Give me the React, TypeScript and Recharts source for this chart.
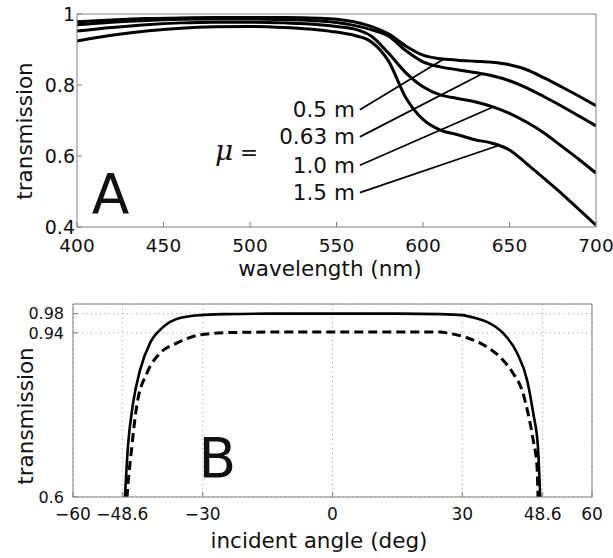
import {
  Line,
  LineChart,
  CartesianGrid,
  ReferenceDot,
  ReferenceLine,
  XAxis,
  YAxis,
} from 'recharts';

const FONT = '"DejaVu Sans", sans-serif';
const INK = '#111';
const AXIS = '#808080';

// Panel A: transmission vs wavelength for four values of mu
const WAVELENGTHS = [400, 420, 440, 460, 480, 500, 520, 540, 550, 560, 570, 580, 590, 600, 610, 620, 630, 640, 650, 660, 670, 680, 690, 700];
const T_050 = [0.978, 0.983, 0.987, 0.989, 0.99, 0.99, 0.99, 0.988, 0.985, 0.978, 0.965, 0.944, 0.91, 0.884, 0.874, 0.87, 0.867, 0.864, 0.857, 0.843, 0.82, 0.795, 0.769, 0.742];
const T_063 = [0.97, 0.977, 0.982, 0.985, 0.986, 0.986, 0.984, 0.98, 0.976, 0.968, 0.956, 0.938, 0.897, 0.865, 0.851, 0.843, 0.835, 0.826, 0.812, 0.792, 0.767, 0.741, 0.713, 0.685];
const T_100 = [0.952, 0.962, 0.97, 0.975, 0.977, 0.977, 0.975, 0.97, 0.965, 0.958, 0.938, 0.89, 0.835, 0.795, 0.772, 0.762, 0.753, 0.739, 0.72, 0.695, 0.665, 0.628, 0.591, 0.552];
const T_150 = [0.924, 0.94, 0.952, 0.96, 0.964, 0.965, 0.962, 0.955, 0.949, 0.94, 0.922, 0.868, 0.765, 0.703, 0.673, 0.66, 0.646, 0.636, 0.617, 0.578, 0.537, 0.495, 0.45, 0.405];
const A_X_TICKS = [400, 450, 500, 550, 600, 650, 700];
const A_Y_TICKS = [0.4, 0.6, 0.8, 1];

const MU_LABELS = ['0.5 m', '0.63 m', '1.0 m', '1.5 m'];
const LEADER_FROM_WL = 563.5;
const LEADER_FROM_T = [0.73, 0.654, 0.574, 0.497];
const LEADER_TO_WL = [612, 634, 640.5, 644.5];
const LEADER_TO_T = [0.873, 0.831, 0.738, 0.631];

// Panel B: transmission vs incident angle
const SOLID_ANGLE = [-48.4, -48.0, -47.3, -46.1, -44.5, -42.2, -39.2, -35.3, -30.6, -25, -15, 0, 15, 25, 29.9, 33, 35.7, 39.4, 42.7, 45.0, 46.4, 47.5, 48.0, 48.4];
const SOLID_T = [0.54, 0.6, 0.704, 0.795, 0.863, 0.919, 0.952, 0.971, 0.977, 0.979, 0.98, 0.98, 0.98, 0.979, 0.977, 0.971, 0.963, 0.94, 0.898, 0.842, 0.774, 0.704, 0.608, 0.54];
const DASHED_ANGLE = [-47.9, -47.5, -46.4, -45.3, -42.9, -39.9, -36, -30.6, -23, -10, 0, 10, 24.9, 26.5, 31.1, 35.7, 39.4, 41.7, 43.8, 45.2, 46.4, 47.3, 47.5, 47.8];
const DASHED_T = [0.54, 0.6, 0.704, 0.787, 0.857, 0.898, 0.919, 0.936, 0.941, 0.942, 0.942, 0.942, 0.942, 0.94, 0.93, 0.911, 0.884, 0.857, 0.822, 0.774, 0.718, 0.662, 0.608, 0.54];
const B_X_TICKS = [-60, -48.6, -30, 0, 30, 48.6, 60];
const B_Y_TICKS = [0.6, 0.94, 0.98];

const axisLine = { stroke: AXIS, strokeWidth: 1 };

function Title({ x, y, angle, children }: any) {
  return (
    <text
      x={x}
      y={y}
      textAnchor="middle"
      transform={angle ? `rotate(${angle} ${x} ${y})` : undefined}
      fill={INK}
      fontSize={21.5}
      fontFamily={FONT}
    >
      {children}
    </text>
  );
}

function textAt(text: string, anchor: string, size: number, dx = 0) {
  return (props: any) => {
    const vb = props.viewBox || {};
    return (
      <text
        x={vb.x + dx}
        y={vb.y}
        textAnchor={anchor}
        dominantBaseline={size < 30 ? 'central' : undefined}
        fill={INK}
        fontSize={size}
        fontFamily={FONT}
      >
        {text}
      </text>
    );
  };
}

function muLabel(props: any) {
  const vb = props.viewBox || {};
  return (
    <text x={vb.x} y={vb.y} fill={INK} fontSize={21.5} fontFamily={FONT}>
      <tspan fontFamily='"DejaVu Serif", serif' fontStyle="italic" fontSize={28}>
        μ
      </tspan>
      <tspan> =</tspan>
    </text>
  );
}

function PanelA() {
  const data = WAVELENGTHS.map((wl, i) => ({
    wl,
    m050: T_050[i],
    m063: T_063[i],
    m100: T_100[i],
    m150: T_150[i],
  }));
  const series = ['m050', 'm063', 'm100', 'm150'];
  return (
    <LineChart width={613} height={280} data={data} margin={{ top: 0, right: 0, bottom: 0, left: 0 }}>
      <XAxis
        dataKey="wl"
        type="number"
        domain={[400, 700]}
        allowDataOverflow
        ticks={A_X_TICKS}
        interval={0}
        height={53}
        tickSize={-5}
        tickMargin={17}
        axisLine={axisLine}
        tickLine={axisLine}
        tick={{ fill: INK, fontSize: 18.5, fontFamily: FONT }}
        label={() => <Title x={330} y={276}>wavelength (nm)</Title>}
      />
      <XAxis
        xAxisId="top"
        orientation="top"
        type="number"
        domain={[400, 700]}
        allowDataOverflow
        ticks={A_X_TICKS}
        interval={0}
        height={14}
        tickSize={-5}
        axisLine={axisLine}
        tickLine={axisLine}
        tick={false}
      />
      <YAxis
        type="number"
        domain={[0.4, 1]}
        allowDataOverflow
        ticks={A_Y_TICKS}
        interval={0}
        width={77}
        tickSize={-5}
        tickMargin={7}
        axisLine={axisLine}
        tickLine={axisLine}
        tick={{ fill: INK, fontSize: 19, fontFamily: FONT }}
        label={() => <Title x={32} y={131} angle={-90}>transmission</Title>}
      />
      <YAxis
        yAxisId="right"
        orientation="right"
        type="number"
        domain={[0.4, 1]}
        allowDataOverflow
        ticks={A_Y_TICKS}
        interval={0}
        width={17}
        tickSize={-5}
        axisLine={axisLine}
        tickLine={axisLine}
        tick={false}
      />
      {MU_LABELS.map((lab, i) => (
        <ReferenceLine
          key={lab + '-leader'}
          segment={[
            { x: LEADER_FROM_WL, y: LEADER_FROM_T[i] },
            { x: LEADER_TO_WL[i], y: LEADER_TO_T[i] },
          ]}
          stroke="#000"
          strokeWidth={1.8}
        />
      ))}
      {series.map((key) => (
        <Line
          key={key}
          dataKey={key}
          type="monotone"
          stroke="#000"
          strokeWidth={3}
          dot={false}
          activeDot={false}
          isAnimationActive={false}
        />
      ))}
      {MU_LABELS.map((lab, i) => (
        <ReferenceDot
          key={lab}
          x={LEADER_FROM_WL}
          y={LEADER_FROM_T[i]}
          r={0}
          fill="none"
          stroke="none"
          label={textAt(lab, 'end', 21.5, -5)}
        />
      ))}
      <ReferenceDot x={479.8} y={0.589} r={0} fill="none" stroke="none" label={muLabel} />
      <ReferenceDot x={419.4} y={0.4394} r={0} fill="none" stroke="none" label={textAt('A', 'middle', 55)} />
    </LineChart>
  );
}

function PanelB() {
  const solid = SOLID_ANGLE.map((angle, i) => ({ angle, t: SOLID_T[i] }));
  const dashed = DASHED_ANGLE.map((angle, i) => ({ angle, t: DASHED_T[i] }));
  const fmtAngle = (v: number) => (v < 0 ? `−${Math.abs(v)}` : `${v}`);
  return (
    <LineChart width={613} height={278} margin={{ top: 0, right: 0, bottom: 0, left: 0 }}>
      <CartesianGrid stroke="#9a9a9a" strokeDasharray="1 3.5" />
      <XAxis
        dataKey="angle"
        type="number"
        domain={[-60, 60]}
        allowDataOverflow
        ticks={B_X_TICKS}
        interval={0}
        height={61}
        tickSize={-5}
        tickMargin={16}
        axisLine={axisLine}
        tickLine={axisLine}
        tickFormatter={fmtAngle}
        tick={{ fill: INK, fontSize: 17, fontFamily: FONT }}
        label={() => <Title x={319} y={268}>incident angle (deg)</Title>}
      />
      <XAxis
        xAxisId="top"
        orientation="top"
        type="number"
        domain={[-60, 60]}
        allowDataOverflow
        ticks={B_X_TICKS}
        interval={0}
        height={24}
        tickSize={-5}
        axisLine={axisLine}
        tickLine={axisLine}
        tick={false}
      />
      <YAxis
        type="number"
        domain={[0.6, 1]}
        allowDataOverflow
        ticks={B_Y_TICKS}
        interval={0}
        width={73}
        tickSize={-5}
        tickMargin={14}
        axisLine={axisLine}
        tickLine={axisLine}
        tick={{ fill: INK, fontSize: 16, fontFamily: FONT }}
        label={() => <Title x={33} y={136} angle={-90}>transmission</Title>}
      />
      <YAxis
        yAxisId="right"
        orientation="right"
        type="number"
        domain={[0.6, 1]}
        allowDataOverflow
        ticks={B_Y_TICKS}
        interval={0}
        width={21}
        tickSize={-5}
        axisLine={axisLine}
        tickLine={axisLine}
        tick={false}
      />
      <Line
        data={solid}
        dataKey="t"
        type="monotone"
        stroke="#000"
        strokeWidth={2.6}
        dot={false}
        activeDot={false}
        isAnimationActive={false}
      />
      <Line
        data={dashed}
        dataKey="t"
        type="monotone"
        stroke="#000"
        strokeWidth={3}
        strokeDasharray="9 5"
        dot={false}
        activeDot={false}
        isAnimationActive={false}
      />
      <ReferenceDot x={-26.6} y={0.6415} r={0} fill="none" stroke="none" label={textAt('B', 'middle', 55)} />
    </LineChart>
  );
}

export default function App() {
  return (
    <div style={{ position: 'absolute', left: 0, top: 0, width: 613, height: 558, background: '#fff' }}>
      <PanelA />
      <PanelB />
    </div>
  );
}
